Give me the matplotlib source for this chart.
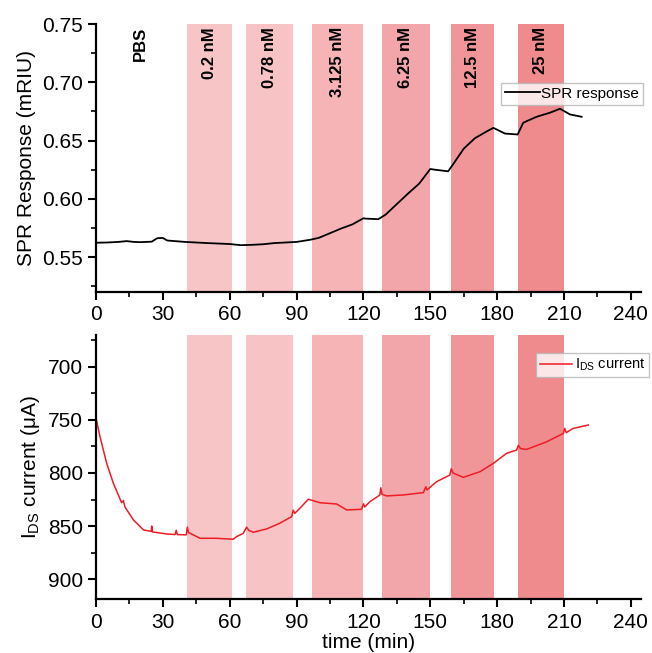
import numpy as np
import matplotlib
matplotlib.use("Agg")
import matplotlib.pyplot as plt
from matplotlib.ticker import MultipleLocator

plt.rcParams["font.family"] = ["Liberation Sans", "DejaVu Sans"]
plt.rcParams["mathtext.fontset"] = "custom"
plt.rcParams["mathtext.rm"] = "Liberation Sans"
plt.rcParams["mathtext.it"] = "Liberation Sans:italic"

# =========================================================
# DATA
# =========================================================
band_start = [41.0, 67.3, 97.0, 128.3, 159.4, 189.2]
band_end = [61.0, 88.4, 119.9, 149.7, 178.4, 210.1]
band_labels = ["0.2 nM", "0.78 nM", "3.125 nM", "6.25 nM", "12.5 nM", "25 nM"]
band_colors = ["#f8c5c7", "#f8c3c5", "#f6b4b6", "#f3a6a9", "#f09699", "#ef8a8d"]

spr_time = [0, 5, 10, 13.8, 17, 20, 25, 27.5, 30, 32, 40, 50, 60, 65, 70, 75,
            80, 90, 96, 100, 105, 110, 115, 120, 121, 126.7, 130, 135, 140,
            145, 150, 152, 158, 160, 165, 170, 175, 178.3, 183.5, 189.2,
            191.7, 197.7, 203.7, 208.2, 212.7, 217.9]
spr_value = [0.5623, 0.5625, 0.5630, 0.5637, 0.5630, 0.5628, 0.5632, 0.5662,
             0.5664, 0.5642, 0.5630, 0.5620, 0.5612, 0.5602, 0.5605, 0.5610,
             0.5620, 0.5630, 0.5648, 0.5665, 0.5705, 0.5745, 0.5780, 0.5833,
             0.5830, 0.5825, 0.5865, 0.5955, 0.6045, 0.6130, 0.6256, 0.6250,
             0.6236, 0.6290, 0.6430, 0.6520, 0.6575, 0.6609, 0.6560, 0.6552,
             0.6653, 0.6704, 0.6739, 0.6773, 0.6724, 0.6704]

ids_time = [0, 1.8, 4.8, 7.8, 11.5, 12.3, 13, 16.8, 21.3, 24.8, 25, 25.3,
            31.7, 35.5, 36, 36.5, 40.5, 41, 41.5, 46.7, 53.8, 61.6, 63.1, 66,
            67.6, 68.5, 70.6, 76.6, 82.5, 87.8, 88.5, 89.2, 91.5, 95.3, 100.5,
            108, 112.5, 119.2, 120, 120.6, 122.9, 127.4, 127.8, 128.3, 130.4,
            137.9, 146.9, 148, 148.5, 152.8, 158.8, 159.4, 160.2, 164.8, 172.3,
            178.3, 184.2, 188.7, 189.5, 190.5, 193.2, 202.2, 209.7, 210.3, 211,
            214.1, 220.9]
ids_value = [748, 765.8, 790.9, 809.7, 828, 826, 832, 844.2, 853.6, 855, 850,
             855.5, 857.4, 858, 854, 858, 858.3, 851, 856, 861.5, 861.5, 862.4,
             859.9, 857, 851, 854, 855.8, 852.7, 847.3, 841.1, 835, 838, 833.2,
             824.7, 828, 829.2, 834.8, 834.2, 829, 832, 827, 820.7, 814, 820,
             821.6, 820.7, 818.5, 813, 816, 808.2, 801.9, 796, 800, 804.1,
             798.8, 790.9, 781.5, 778.4, 774, 777, 777.8, 770.6, 762.7, 758,
             762, 758, 754.8]

# =========================================================
# FIGURE
# =========================================================
fig = plt.figure(figsize=(6.52, 6.53), dpi=100)
ax1 = fig.add_axes([0.1472, 0.5528, 0.8358, 0.4104])
ax2 = fig.add_axes([0.1472, 0.0822, 0.8358, 0.4048])


def style_axis(ax):
    ax.spines["top"].set_visible(False)
    ax.spines["right"].set_visible(False)
    for s in ["left", "bottom"]:
        ax.spines[s].set_linewidth(1.6)
    ax.tick_params(which="major", direction="out", length=6, width=1.5, labelsize=15)
    ax.tick_params(which="minor", direction="out", length=3.5, width=1.2)
    ax.set_xlim(0, 244.5)
    ax.xaxis.set_major_locator(MultipleLocator(30))
    ax.xaxis.set_minor_locator(MultipleLocator(15))
    for xs, xe, c in zip(band_start, band_end, band_colors):
        ax.axvspan(xs, xe, color=c, lw=0, zorder=0)


# ---- top: SPR response
style_axis(ax1)
ax1.plot(spr_time, spr_value, color="black", lw=1.3, label="SPR response")
ax1.set_ylim(0.52, 0.75)
ax1.yaxis.set_major_locator(MultipleLocator(0.05))
ax1.yaxis.set_minor_locator(MultipleLocator(0.025))
ax1.yaxis.set_major_formatter(matplotlib.ticker.FormatStrFormatter("%.2f"))
ax1.set_ylabel("SPR Response (mRIU)", fontsize=15)

for xs, xe, lab in zip(band_start, band_end, band_labels):
    ax1.text((xs + xe) / 2, 0.7475, lab, rotation=90, ha="center", va="top",
             fontsize=12, fontweight="bold")
ax1.text(19.7, 0.7475, "PBS", rotation=90, ha="center", va="top",
         fontsize=12, fontweight="bold")

leg1 = ax1.legend(loc="upper left", bbox_to_anchor=(0.743, 0.78), borderaxespad=0,
                  fontsize=11, frameon=True, fancybox=False, borderpad=0.25,
                  handlelength=2.3, handletextpad=0.1)
leg1.get_frame().set_edgecolor("#b5b5b5")
leg1.get_frame().set_linewidth(1.0)

# ---- bottom: IDS current
style_axis(ax2)
ax2.plot(ids_time, ids_value, color="#ee1c25", lw=1.1, label=r"$\mathrm{I_{DS}}$ current")
ax2.set_ylim(919, 670)
ax2.yaxis.set_major_locator(MultipleLocator(50))
ax2.yaxis.set_minor_locator(MultipleLocator(25))
ax2.set_ylabel(r"$\mathrm{I_{DS}}$ current (μA)", fontsize=15)
ax2.set_xlabel("time (min)", fontsize=15, labelpad=1)

leg2 = ax2.legend(loc="upper left", bbox_to_anchor=(0.808, 0.932), borderaxespad=0,
                  fontsize=10.5, frameon=True, fancybox=False, borderpad=0.25,
                  handlelength=2.2, handletextpad=0.2)
leg2.get_frame().set_edgecolor("#b5b5b5")
leg2.get_frame().set_linewidth(1.0)

fig.savefig("out.png", dpi=100)
